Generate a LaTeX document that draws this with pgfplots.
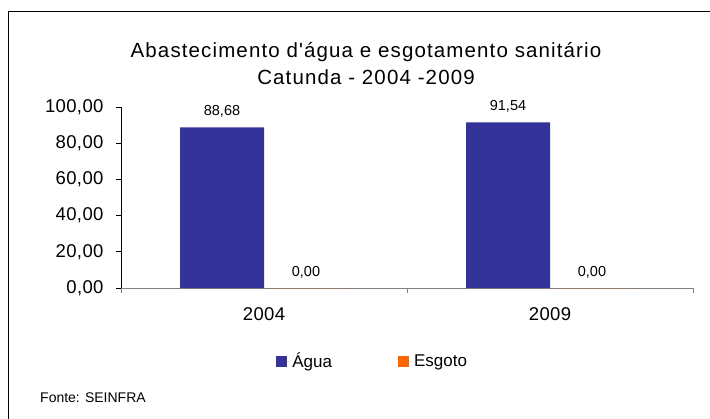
\documentclass[border=0pt]{standalone}
\usepackage{fontspec}
\setmainfont{Liberation Sans}
\newfontfamily\titlefont{Liberation Sans}[LetterSpace=5.5]
\newfontfamily\tickfont{Liberation Sans}[LetterSpace=2]
\usepackage{pgfplots}
\pgfplotsset{compat=1.18}
\definecolor{agua}{HTML}{333399}
\definecolor{esgoto}{HTML}{FF6600}
\begin{document}
\begin{tikzpicture}
\useasboundingbox (0,0) rectangle (710bp,419bp);
% frame (cropped: only top and left edges visible)
\draw[line width=0.9bp] (8bp,-1bp) -- (8bp,408bp) -- (711bp,408bp);
% title
\node[anchor=base] at (366bp,361bp) {\fontsize{20.5bp}{24bp}\titlefont Abastecimento d\symbol{"0027}água e esgotamento sanitário};
\node[anchor=base] at (366bp,334bp) {\fontsize{20.5bp}{24bp}\titlefont Catunda - 2004 -2009};
\begin{axis}[
    at={(121bp,131bp)}, anchor=south west,
    scale only axis,
    width=572bp, height=181bp,
    ybar=0pt, bar width=84bp,
    xmin=-0.5, xmax=1.5,
    ymin=0, ymax=100,
    axis lines=left,
    axis line style={-},
    x axis line style={draw=gray},
    y axis line style={draw=black},
    tick align=outside,
    major tick length=5bp,
    tick style={line width=0.6bp},
    y tick style={black},
    x tick style={gray},
    ytick={0,20,...,100},
    xtick={-0.5,0.5,1.5},
    xticklabels={},
    extra x ticks={0,1},
    extra x tick labels={2004,2009},
    extra x tick style={major tick length=0pt},
    xticklabel style={font=\fontsize{18.5bp}{20bp}\tickfont, anchor=base, yshift=-32bp},
    yticklabel style={font=\fontsize{18.5bp}{20bp}\tickfont, anchor=east, xshift=-9bp},
    /pgf/number format/fixed,
    /pgf/number format/fixed zerofill,
    /pgf/number format/precision=2,
    /pgf/number format/use comma,
    /pgf/number format/1000 sep={},
    /pgf/number format/assume math mode=true,
    nodes near coords,
    nodes near coords style={font=\fontsize{14.5bp}{16bp}\selectfont, anchor=base, yshift=12bp, text=black},
    legend columns=2,
    legend style={at={(axis description cs:0.44,0)}, anchor=center, yshift=-73bp,
        draw=none, fill=none, font=\fontsize{17bp}{19bp}\selectfont,
        /tikz/every even column/.append style={column sep=64bp}},
    legend image code/.code={\fill[#1] (0bp,-5.5bp) rectangle (11bp,5.5bp);
        \path (0bp,0bp) -- (14bp,0bp);},
    clip=false,
]
\addplot[draw=none, fill=agua] coordinates {(0,88.68) (1,91.54)};
\addplot[draw=none, fill=esgoto] coordinates {(0,0) (1,0)};
\legend{Água,Esgoto}
\end{axis}
\node[anchor=base west, inner sep=0pt] at (40bp,17bp) {\fontsize{14bp}{15bp}\selectfont Fonte: SEINFRA};
\end{tikzpicture}
\end{document}
